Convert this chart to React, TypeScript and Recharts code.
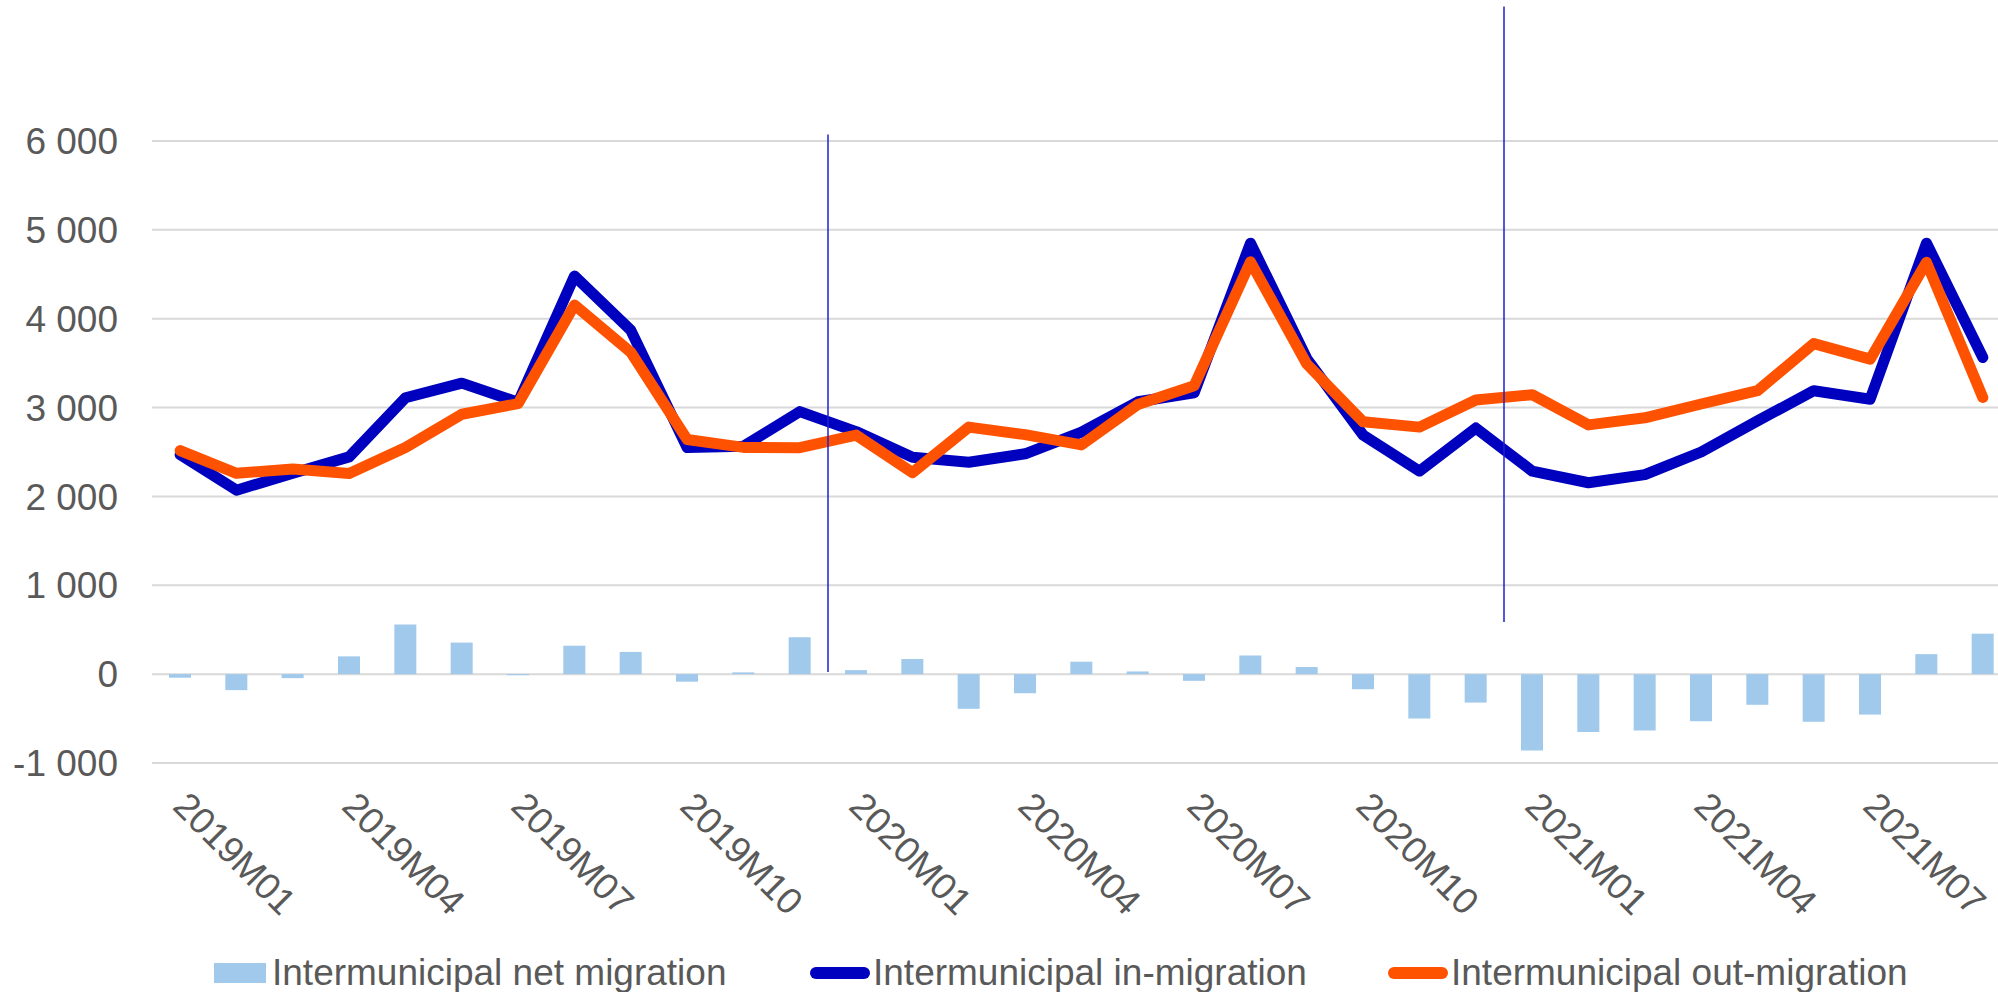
import { Bar, CartesianGrid, ComposedChart, Legend, Line, ReferenceLine, XAxis, YAxis } from "recharts";

const months = [
  "2019M01", "2019M02", "2019M03", "2019M04", "2019M05", "2019M06", "2019M07", "2019M08", "2019M09", "2019M10", "2019M11", "2019M12",
  "2020M01", "2020M02", "2020M03", "2020M04", "2020M05", "2020M06", "2020M07", "2020M08", "2020M09", "2020M10", "2020M11", "2020M12",
  "2021M01", "2021M02", "2021M03", "2021M04", "2021M05", "2021M06", "2021M07", "2021M08", "2021M09",
];

const netMigration = [
  -40, -180, -45, 200, 560, 355, -12, 320, 250, -85, 20, 415,
  45, 170, -390, -215, 140, 30, -75, 210, 80, -170, -500, -320,
  -860, -650, -635, -530, -345, -535, -455, 225, 455,
];

const inMigration = [
  2470, 2070, 2260, 2445, 3110, 3275, 3060, 4480, 3870, 2550, 2565, 2955,
  2730, 2440, 2385, 2480, 2725, 3065, 3165, 4850, 3550, 2690, 2286, 2770,
  2286, 2154, 2245, 2500, 2850, 3190, 3094, 4850, 3564,
];

const outMigration = [
  2516, 2260, 2309, 2258, 2550, 2925, 3045, 4155, 3622, 2640, 2552, 2548,
  2690, 2268, 2780, 2695, 2580, 3035, 3245, 4640, 3490, 2840, 2780, 3085,
  3145, 2805, 2885, 3040, 3190, 3720, 3545, 4635, 3113,
];

const yTicks = [-1000, 0, 1000, 2000, 3000, 4000, 5000, 6000];

// hand-drawn vertical markers in the original, placed between months
const markerAt = [11.5, 23.5];
const markerFrom = [25, 588];
const markerTo = [6074, 7514];

const data = months.map((m, i) => ({
  month: m,
  idx: i,
  net: netMigration[i],
  inm: inMigration[i],
  outm: outMigration[i],
}));

const series = [
  { key: "net", label: "Intermunicipal net migration", color: "#A0C9EB", kind: "bar" },
  { key: "inm", label: "Intermunicipal in-migration", color: "#0000BF", kind: "line" },
  { key: "outm", label: "Intermunicipal out-migration", color: "#FF5200", kind: "line" },
];
const legendLeft = [214, 810, 1388];

const font = "'Liberation Sans', Arial, sans-serif";
const textColor = "#595959";

const fmt = (v: number) =>
  (v < 0 ? "-" : "") + String(Math.abs(v)).replace(/\B(?=(\d{3})+(?!\d))/g, " ");

const MonthTick = ({ x, y, payload }: any) => (
  <g transform={`translate(${x - 9},${y + 45}) rotate(45)`}>
    <text x={0} y={0} textAnchor="start" fill={textColor} fontSize={37} fontFamily={font}>
      {payload.value}
    </text>
  </g>
);

const renderLegend = () => (
  <div style={{ position: "relative", width: 1998, height: 37, fontFamily: font, fontSize: 37, color: textColor }}>
    {series.map((s, i) => (
      <div
        key={s.key}
        style={{ position: "absolute", left: legendLeft[i], top: 0, height: 37, lineHeight: "37px", display: "flex", alignItems: "center", whiteSpace: "nowrap" }}
      >
        {s.kind === "bar" ? (
          <span style={{ width: 52, height: 20, background: s.color, marginRight: 6 }} />
        ) : (
          <span style={{ width: 60, height: 12, borderRadius: 6, background: s.color, marginRight: 3 }} />
        )}
        <span>{s.label}</span>
      </div>
    ))}
  </div>
);

export default function App() {
  return (
    <div style={{ position: "absolute", left: 0, top: 0, width: 1998, height: 992, overflow: "hidden", background: "#fff" }}>
      <ComposedChart width={2011} height={992} data={data} margin={{ top: 141, right: 0, bottom: 0, left: 0 }}>
        <CartesianGrid vertical={false} stroke="#D9D9D9" strokeWidth={2} />
        <XAxis
          dataKey="month"
          interval={2}
          axisLine={false}
          tickLine={false}
          tickSize={0}
          tickMargin={0}
          height={229}
          tick={<MonthTick />}
        />
        <XAxis xAxisId="pos" dataKey="idx" type="number" domain={[-0.5, 32.5]} allowDataOverflow hide />
        <YAxis
          width={152}
          domain={[-1000, 6000]}
          ticks={yTicks}
          interval={0}
          axisLine={false}
          tickLine={false}
          tickSize={0}
          tickMargin={34}
          tickFormatter={fmt}
          tick={{ fill: textColor, fontSize: 37, fontFamily: font }}
        />
        <Legend layout="horizontal" verticalAlign="middle" align="center" wrapperStyle={{ left: 0, top: 954, width: 1998, height: 37 }} content={renderLegend} />
        <Bar dataKey="net" fill="#A0C9EB" barSize={22} isAnimationActive={false} />
        <Line dataKey="inm" type="linear" stroke="#0000BF" strokeWidth={11} strokeLinecap="round" strokeLinejoin="round" dot={false} activeDot={false} isAnimationActive={false} />
        <Line dataKey="outm" type="linear" stroke="#FF5200" strokeWidth={11} strokeLinecap="round" strokeLinejoin="round" dot={false} activeDot={false} isAnimationActive={false} />
        {markerAt.map((m, i) => (
          <ReferenceLine
            key={m}
            xAxisId="pos"
            segment={[{ x: m, y: markerFrom[i] }, { x: m, y: markerTo[i] }]}
            stroke="#1F1FD1"
            strokeWidth={1.5}
            ifOverflow="visible"
          />
        ))}
      </ComposedChart>
    </div>
  );
}
